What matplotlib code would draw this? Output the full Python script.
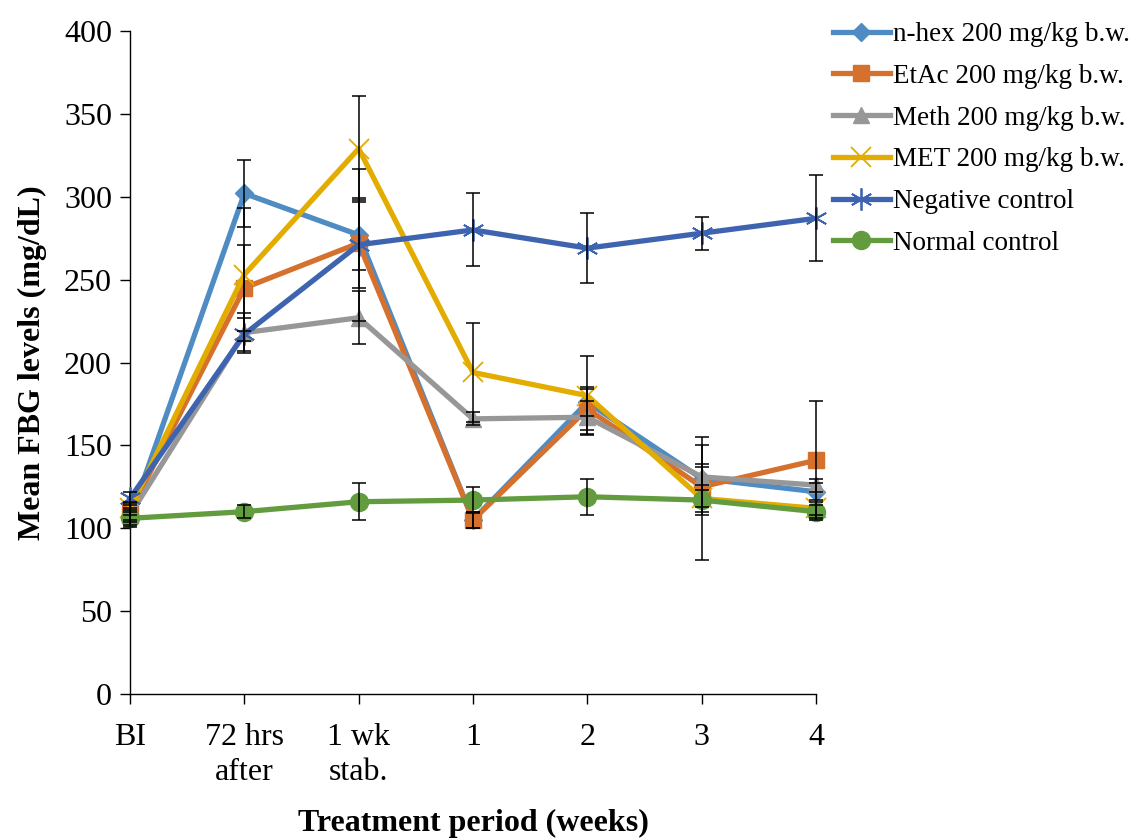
import numpy as np
import matplotlib
matplotlib.use("Agg")
import matplotlib.pyplot as plt

# data
periods = ["BI", "72 hrs\nafter", "1 wk\nstab.", "1", "2", "3", "4"]

nhex = [106, 302, 277, 105, 176, 130, 122]
etac = [110, 245, 272, 105, 172, 125, 141]
meth = [108, 218, 227, 166, 167, 131, 126]
met = [112, 253, 329, 194, 180, 118, 112]
neg_ctrl = [118, 217, 271, 280, 269, 278, 287]
norm_ctrl = [106, 110, 116, 117, 119, 117, 110]

nhex_sd = [5, 20, 21, 5, 8, 20, 5]
etac_sd = [5, 26, 27, 5, 13, 12, 36]
meth_sd = [4, 12, 16, 4, 10, 8, 4]
met_sd = [4, 40, 32, 30, 24, 37, 4]
neg_sd = [4, 10, 46, 22, 21, 10, 26]
norm_sd = [4, 4, 11, 8, 11, 9, 4]

labels = ["n-hex 200 mg/kg b.w.", "EtAc 200 mg/kg b.w.", "Meth 200 mg/kg b.w.",
          "MET 200 mg/kg b.w.", "Negative control", "Normal control"]

plt.rcParams['font.family'] = ['Liberation Serif', 'DejaVu Serif']

fig = plt.figure(figsize=(11.31, 8.4), dpi=100)
ax = fig.add_axes([130 / 1131, 146 / 840, 686 / 1131, 663 / 840])

x = np.arange(len(periods))

styles = [
    (nhex, nhex_sd, '#4F8CC3', dict(marker='D', markersize=9)),
    (etac, etac_sd, '#D5702D', dict(marker='s', markersize=11)),
    (meth, meth_sd, '#979797', dict(marker='^', markersize=12)),
    (met, met_sd, '#E2AC00', dict(marker='x', markersize=15, markeredgewidth=1.3)),
    (neg_ctrl, neg_sd, '#3F64AF', dict(marker=(6, 2, 0), markersize=16, markeredgewidth=1.3)),
    (norm_ctrl, norm_sd, '#629C3F', dict(marker='o', markersize=13)),
]

for i, (vals, sd, col, mk) in enumerate(styles):
    ax.plot(x, vals, color=col, lw=3.8, label=labels[i], clip_on=False,
            markeredgecolor=col, markerfacecolor=col, zorder=3 + i, **mk)

# error bars on top of the lines
for i, (vals, sd, col, mk) in enumerate(styles):
    ax.errorbar(x, vals, yerr=sd, fmt='none', ecolor='black', elinewidth=1.1,
                capsize=5, capthick=1.1, zorder=20, clip_on=False)

ax.set_xlim(0, 6)
ax.set_ylim(0, 400)
ax.set_yticks(np.arange(0, 401, 50))
ax.set_xticks(x)
ax.set_xticklabels(periods, fontsize=23, linespacing=1.25)
ax.tick_params(axis='y', labelsize=23, direction='out', length=7, width=1, pad=6)
ax.tick_params(axis='x', direction='out', length=7, width=1, pad=14)

for s in ['top', 'right']:
    ax.spines[s].set_visible(False)
for s in ['left', 'bottom']:
    ax.spines[s].set_linewidth(1)

ax.set_ylabel("Mean FBG levels (mg/dL)", fontsize=23, fontweight='bold', labelpad=12)
ax.set_xlabel("Treatment period (weeks)", fontsize=23, fontweight='bold', labelpad=16)

fig.legend(loc='upper left', bbox_to_anchor=(833 / 1131, 1 - 22 / 840),
           frameon=False, fontsize=19.5, handlelength=2.1, handletextpad=0.1,
           labelspacing=0.62, borderpad=0, borderaxespad=0)

fig.savefig("out.png", dpi=100)
